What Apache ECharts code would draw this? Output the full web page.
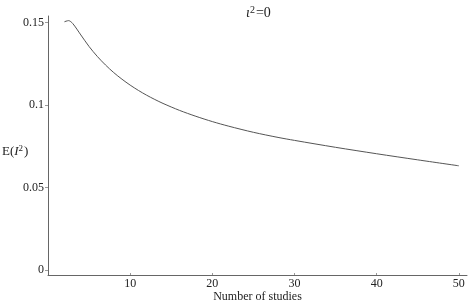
<!DOCTYPE html>
<html lang="en">
<head>
    <meta charset="UTF-8">
    <title>E(I2) vs number of studies</title>
    <script src="https://cdn.jsdelivr.net/npm/echarts@6.0.0/dist/echarts.min.js"></script>
    <style>
        body, html {
            margin: 0;
            padding: 0;
            width: 100%;
            height: 100%;
            background-color: #fff;
        }
        #chart {
            width: 472px;
            height: 303px;
        }
    </style>
</head>
<body>
    <div id="chart"></div>
    <script>
        // number of studies (k) and expected I^2
        var studies = [2, 2.5, 3, 4, 5, 6, 7, 8, 9, 10, 11, 12, 13, 14, 16, 18, 20, 22, 25, 28, 30, 35, 40, 45, 50];
        var expectedI2 = [0.1505, 0.1512, 0.1495, 0.1425, 0.1355, 0.1295, 0.1243, 0.1197, 0.1157, 0.1121,
            0.1089, 0.1060, 0.1034, 0.1010, 0.0968, 0.0932, 0.0900, 0.0872, 0.0835, 0.0804, 0.0786,
            0.0744, 0.0705, 0.0668, 0.0632];
        var xTicks = [10, 20, 30, 40, 50];
        var yTicks = [0, 0.05, 0.1, 0.15];

        var points = studies.map(function (k, i) { return [k, expectedI2[i]]; });

        var serif = 'Liberation Serif';
        var axisColor = '#666';

        var option = {
            backgroundColor: '#fff',
            animation: false,
            textStyle: { fontFamily: serif },
            title: {
                text: '{i|ι}{s|2}{n|=0}',
                left: 241,
                top: 0,
                textStyle: {
                    fontWeight: 'normal',
                    rich: {
                        i: { fontFamily: serif, fontStyle: 'italic', fontWeight: 'normal', fontSize: 14, color: '#222' },
                        s: { fontFamily: serif, fontWeight: 'normal', fontSize: 10, color: '#222', verticalAlign: 'top', padding: [0, 1, 6, 0] },
                        n: { fontFamily: serif, fontWeight: 'normal', fontSize: 14, color: '#222' }
                    }
                }
            },
            graphic: [{
                type: 'text',
                left: 2,
                top: 144,
                style: {
                    text: '{n|E(}{i|I}{s|2}{n|)}',
                    rich: {
                        n: { fontFamily: serif, fontSize: 13, fill: '#222' },
                        i: { fontFamily: serif, fontStyle: 'italic', fontSize: 13, fill: '#222' },
                        s: { fontFamily: serif, fontSize: 9, fill: '#222', verticalAlign: 'top', padding: [0, 1, 6, 0] }
                    }
                }
            }],
            grid: {
                left: 48,
                right: 5,
                top: 16,
                bottom: 28,
                containLabel: false,
                outerBoundsMode: 'none'
            },
            xAxis: {
                type: 'value',
                min: 0,
                max: 51,
                name: 'Number of studies',
                nameLocation: 'middle',
                nameGap: 16,
                nameMoveOverlap: false,
                nameTextStyle: { fontFamily: serif, fontSize: 12, color: '#222' },
                axisLine: { onZero: false, lineStyle: { color: axisColor, width: 1 } },
                axisTick: { show: true, inside: true, length: 2, customValues: xTicks, lineStyle: { color: '#999' } },
                axisLabel: { customValues: xTicks, fontFamily: serif, fontSize: 12, color: '#222', margin: 3 },
                splitLine: { show: false }
            },
            yAxis: {
                type: 'value',
                min: -0.003,
                max: 0.154,
                axisLine: { show: true, onZero: false, lineStyle: { color: axisColor, width: 1 } },
                axisTick: { show: true, length: 3, customValues: yTicks, lineStyle: { color: '#999' } },
                axisLabel: { customValues: yTicks, fontFamily: serif, fontSize: 12, color: '#222', margin: 4 },
                splitLine: { show: false }
            },
            series: [{
                type: 'line',
                data: points,
                smooth: 0.3,
                showSymbol: false,
                lineStyle: { color: '#555', width: 1 }
            }]
        };

        var chart = echarts.init(document.getElementById('chart'));
        chart.setOption(option);
    </script>
</body>
</html>
